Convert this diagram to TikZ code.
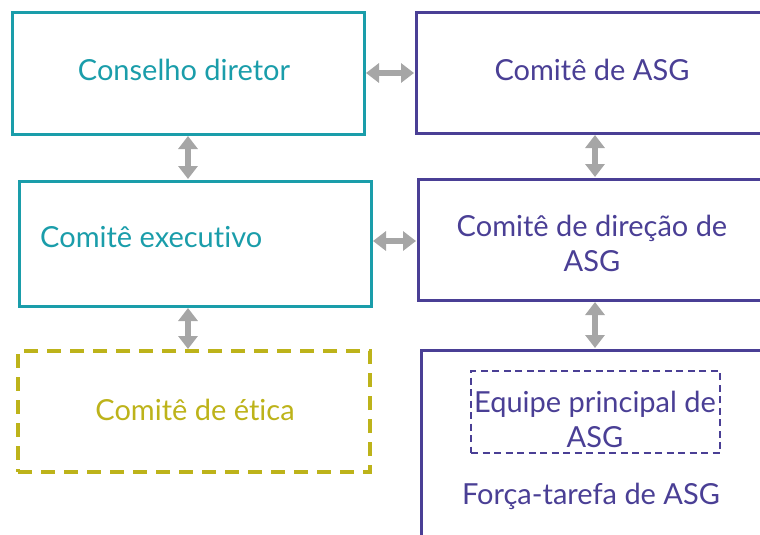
\documentclass[tikz,border=0pt]{standalone}
\usepackage{fontspec}
\setmainfont{Lato}[Ligatures=NoCommon]
\usetikzlibrary{arrows.meta,calc}
\definecolor{tealc}{HTML}{1A9DAA}
\definecolor{purc}{HTML}{4A3F95}
\definecolor{olivec}{HTML}{BDB31A}
\definecolor{grayc}{HTML}{A6A6A6}
\tikzset{
  box/.style={draw, rectangle, line width=3pt, inner sep=0pt, outer sep=0pt},
  tealbox/.style={box, draw=tealc},
  purbox/.style={box, draw=purc},
  olivebox/.style={box, draw=olivec, line width=3.5pt, dash pattern=on 14pt off 9pt},
  innerbox/.style={box, draw=purc, line width=1.6pt, dash pattern=on 7pt off 4.5pt},
  lbl/.style={font=\fontsize{29}{35}\selectfont, align=center, inner sep=0pt},
  dbl/.style={draw=grayc, line width=6pt, {Triangle[length=13pt,width=19pt]}-{Triangle[length=13pt,width=19pt]}, shorten >=2pt, shorten <=2pt}
}
\begin{document}
\begin{tikzpicture}[x=1pt,y=-1pt]
\useasboundingbox (0,0) rectangle (760,535);
\clip (0,0) rectangle (760,535);
% boxes
\node[tealbox, minimum width=352pt, minimum height=121pt] (cd) at (188,73.5) {};
\node[purbox, minimum width=354pt, minimum height=120pt] (asg) at (593,73) {};
\node[tealbox, minimum width=352pt, minimum height=125pt] (ce) at (195,243.5) {};
\node[purbox, minimum width=352pt, minimum height=121pt] (cda) at (594,239.5) {};
\node[olivebox, minimum width=352pt, minimum height=121pt] (ca) at (194,411.5) {};
\node[purbox, minimum width=350pt, minimum height=210pt] (ft) at (596,455) {};
\node[innerbox, minimum width=249pt, minimum height=82pt] (ep) at (595.5,412) {};
% labels
\node[lbl, text=tealc] (tcd) at (184,70) {Conselho diretor};
\node[lbl, text=purc] (tasg) at (592,70) {Comitê de ASG};
\node[lbl, text=tealc, anchor=west] (tce) at (40,237) {Comitê executivo};
\node[lbl, text=purc] (tcda) at (592,243) {Comitê de direção de\\ASG};
\node[lbl, text=olivec] (tca) at (195,410) {Comitê de ética};
\node[lbl, text=purc] (tep) at (595,419) {Equipe principal de\\ASG};
\node[lbl, text=purc] (tft) at (591,496) {Força-tarefa de ASG};
% connectors
\draw[dbl] (cd.east |- 0,73) -- (asg.west |- 0,73);
\draw[dbl] (cd.south) -- (cd.south |- ce.north);
\draw[dbl] (ce.east |- 0,241) -- (cda.west |- 0,241);
\draw[dbl] (asg.south -| 595,0) -- (cda.north -| 595,0);
\draw[dbl] (ce.south -| cd.south) -- (ca.north -| cd.south);
\draw[dbl] (cda.south -| 595,0) -- (ft.north -| 595,0);
\end{tikzpicture}
\end{document}
